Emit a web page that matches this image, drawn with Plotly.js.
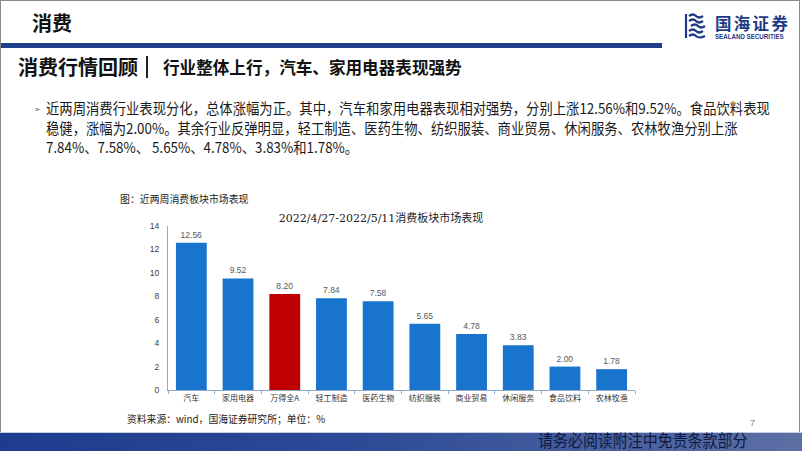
<!DOCTYPE html>
<html>
<head>
<meta charset="utf-8">
<script src="https://cdn.plot.ly/plotly-3.0.1.min.js"></script>
<style>
  html, body { margin: 0; padding: 0; background: #fff; }
  body { width: 802px; height: 451px; position: relative; overflow: hidden;
         font-family: "Noto Sans CJK SC", "Noto Sans", sans-serif; color: #1a1a1a; }
  .abs { position: absolute; white-space: nowrap; }
  #frame { left: 0; top: 0; width: 800px; height: 449px; border: 1px solid #8a8a8a; box-sizing: border-box; }
  #head { left: 32px; top: 9px; font-size: 20px; font-weight: bold; color: #111; line-height: 28px; }
  #rule { left: 1px; top: 43px; width: 661px; height: 5px; background: #1f3f8c; }
  #logo { left: 684px; top: 13px; }
  #logotxt { left: 715px; top: 15px; font-size: 16.5px; font-weight: bold; color: #1e3a86; line-height: 16px; letter-spacing: 2.3px; }
  #logoen { left: 715px; top: 34px; font-family: "Liberation Sans", sans-serif; font-size: 6.5px; line-height: 6px; font-weight: bold; color: #1e3a86;
            transform: scaleX(0.95); transform-origin: 0 0; }
  #sub1 { left: 18px; top: 53px; font-size: 20px; font-weight: bold; color: #111; line-height: 28px; }
  #bar { left: 146px; top: 56px; width: 2px; height: 22px; background: #222; }
  #sub2 { left: 163px; top: 55px; font-size: 16.6px; font-weight: 600; color: #111; line-height: 24px; }
  #bullet { left: 34px; top: 103px; font-size: 8px; color: #666; }
  #para { left: 46px; top: 98px; width: 830px; font-size: 15px; line-height: 19.7px; color: #1a1a1a;
          transform: scaleX(0.889); transform-origin: 0 0; }
  #cap { left: 120px; top: 192px; font-size: 9.9px; color: #222; }
  #src { left: 127px; top: 412px; font-size: 9.8px; color: #222; }
  #pnum { left: 750px; top: 418px; font-family: "Liberation Sans", sans-serif; font-size: 9px; color: #888; }
  #foot { left: 0; top: 432px; width: 802px; height: 19px;
          background: linear-gradient(90deg, #1e3c8e 0%, #2c4a96 45%, #5d6fa4 100%);
          border-top: 1px solid #c8cde0; box-sizing: border-box; }
  #foottxt { left: 538px; top: 431px; font-size: 17px; color: #0e1a44; line-height: 18px;
             transform: scaleX(0.88); transform-origin: 0 0; }
  #chart { left: 100px; top: 200px; width: 560px; height: 215px; }
</style>
</head>
<body>
<div class="abs" id="frame"></div>
<div class="abs" id="head">消费</div>
<div class="abs" id="rule"></div>
<svg class="abs" id="logo" width="24" height="26" viewBox="0 0 24 26">
  <g fill="none" stroke="#1e3a86" stroke-width="2.2">
    <path d="M2 1 L2 25"/>
    <path d="M5 3 Q9 0 12 3 T19 3"/>
    <path d="M5 8 Q9 5 12 8 T19 8"/>
    <path d="M7 13 Q11 10 14 13 T21 13"/>
    <path d="M5 18 Q9 15 12 18 T19 18"/>
    <path d="M5 23 Q9 20 12 23 T21 23"/>
  </g>
</svg>
<div class="abs" id="logotxt">国海证券</div>
<div class="abs" id="logoen">SEALAND SECURITIES</div>
<div class="abs" id="sub1">消费行情回顾</div>
<div class="abs" id="bar"></div>
<div class="abs" id="sub2">行业整体上行，汽车、家用电器表现强势</div>
<div class="abs" id="bullet">➢</div>
<div class="abs" id="para">近两周消费行业表现分化，总体涨幅为正。其中，汽车和家用电器表现相对强势，分别上涨12.56%和9.52%。食品饮料表现<br>稳健，涨幅为2.00%。其余行业反弹明显，轻工制造、医药生物、纺织服装、商业贸易、休闲服务、农林牧渔分别上涨<br>7.84%、7.58%、 5.65%、4.78%、3.83%和1.78%。</div>
<div class="abs" id="cap">图：近两周消费板块市场表现</div>
<div class="abs" id="chart"></div>
<div class="abs" id="src">资料来源：wind，国海证券研究所；单位：%</div>
<div class="abs" id="pnum">7</div>
<div class="abs" id="foot"></div>
<div class="abs" id="foottxt">请务必阅读附注中免责条款部分</div>
<script>
const sectors = ['汽车', '家用电器', '万得全A', '轻工制造', '医药生物', '纺织服装', '商业贸易', '休闲服务', '食品饮料', '农林牧渔']
const returns = [12.56, 9.52, 8.20, 7.84, 7.58, 5.65, 4.78, 3.83, 2.00, 1.78]
const yTicks = [0, 2, 4, 6, 8, 10, 12, 14]
const chartTitle = '2022/4/27-2022/5/11消费板块市场表现'

const barColors = sectors.map(s => s === '万得全A' ? '#c00000' : '#1874cd')

var data = [{
  x: sectors,
  y: returns,
  type: 'bar',
  marker: {color: barColors},
  texttemplate: '%{y:.2f}',
  textposition: 'outside',
  textfont: {family: 'Liberation Sans, sans-serif', size: 8.5, color: '#595959'},
  cliponaxis: false,
  hoverinfo: 'skip'
}]

var layout = {
  width: 560,
  height: 215,
  margin: {l: 68, r: 25, t: 26, b: 25},
  paper_bgcolor: 'rgba(0,0,0,0)',
  plot_bgcolor: 'rgba(0,0,0,0)',
  showlegend: false,
  bargap: 0.34,
  title: {
    text: chartTitle,
    font: {family: 'DejaVu Serif, Liberation Serif, Noto Sans CJK SC, serif', size: 11, color: '#222'},
    xref: 'container', x: 0.502, xanchor: 'center',
    yref: 'container', y: 0.916, yanchor: 'middle'
  },
  xaxis: {
    type: 'category',
    showline: true, linecolor: '#8faacb', linewidth: 1,
    ticks: 'outside', tickson: 'boundaries', ticklen: 3, tickcolor: '#8faacb',
    tickfont: {family: 'Noto Sans CJK SC, sans-serif', size: 8, color: '#333'},
    showgrid: false, zeroline: false, fixedrange: true
  },
  yaxis: {
    range: [0, 14],
    tickvals: yTicks,
    showline: true, linecolor: '#a6a6a6', linewidth: 1,
    ticks: '', ticklabelstandoff: 6,
    tickfont: {family: 'Liberation Sans, sans-serif', size: 8.5, color: '#404040'},
    showgrid: false, zeroline: false, fixedrange: true
  }
}

Plotly.newPlot('chart', data, layout, {displayModeBar: false, staticPlot: true})
</script>
</body>
</html>
